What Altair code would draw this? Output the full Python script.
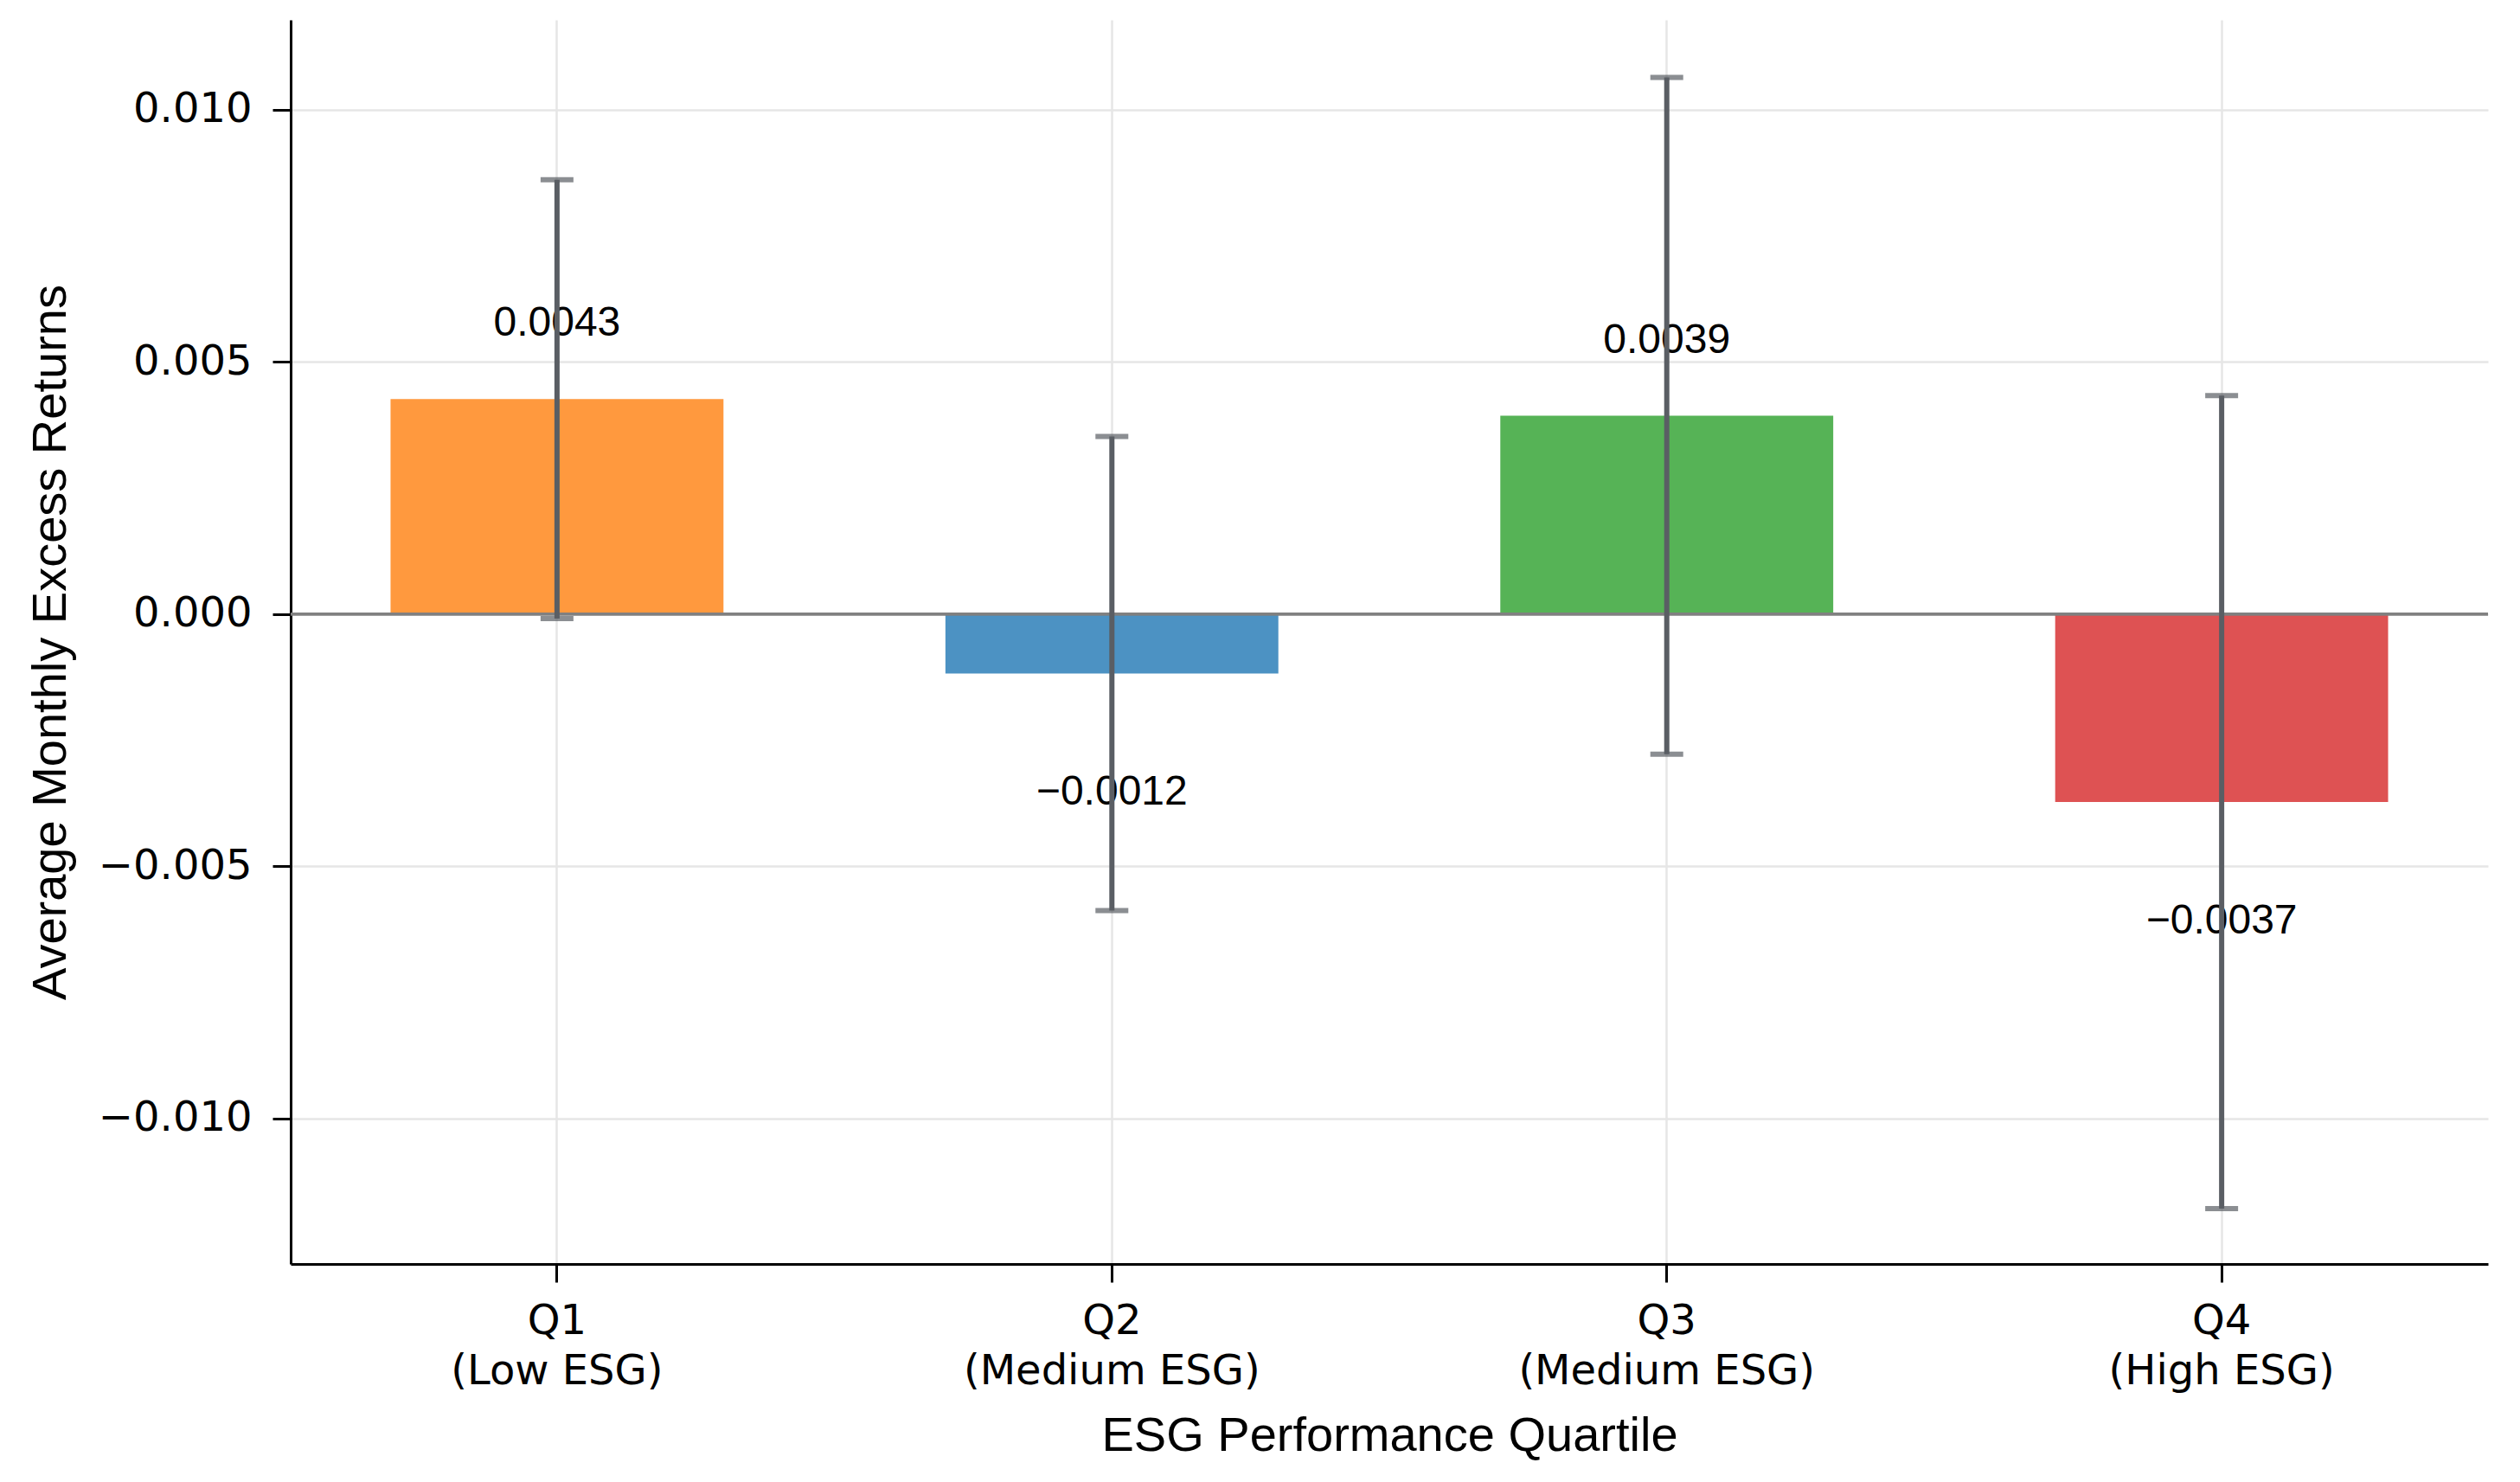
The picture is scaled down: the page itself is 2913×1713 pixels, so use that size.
import altair as alt
import pandas as pd

# ---- data ----
quartiles = ["Q1\n(Low ESG)", "Q2\n(Medium ESG)", "Q3\n(Medium ESG)", "Q4\n(High ESG)"]
returns = [0.00426, -0.00118, 0.00393, -0.00373]
errors = [0.00435, 0.00470, 0.00671, 0.00806]
colors = ["#FF993E", "#4C92C3", "#56B356", "#DE5253"]
y_ticks = [-0.010, -0.005, 0.000, 0.005, 0.010]
y_domain = [-0.01289, 0.01178]

df = pd.DataFrame({"q": quartiles, "value": returns, "err": errors})

x_axis = alt.Axis(
    title="ESG Performance Quartile",
    labelAngle=0,
    labelExpr="split(datum.label, '\\n')",
    labelLineHeight=58,
    labelPadding=21,
    labelLimit=0,
    bandPosition=0.5,
    titlePadding=23,
)
x_scale = alt.Scale(paddingInner=0.4, paddingOuter=0.18)
y_axis = alt.Axis(
    title="Average Monthly Excess Returns",
    values=y_ticks,
    format=".3f",
    labelPadding=24,
    titlePadding=49,
)
y_scale = alt.Scale(domain=y_domain, nice=False, zero=False)


def X():
    return alt.X("q:N", sort=quartiles, scale=x_scale, axis=x_axis)


def Y(field):
    return alt.Y(field, scale=y_scale, axis=y_axis)


base = alt.Chart(df).transform_calculate(
    lo="datum.value - datum.err", hi="datum.value + datum.err"
)

bars = base.mark_bar().encode(
    x=X(),
    y=Y("value:Q"),
    color=alt.Color("q:N", scale=alt.Scale(domain=quartiles, range=colors), legend=None),
)

zero = base.mark_rule(color="#808080", strokeWidth=3).encode(
    y=alt.Y("z:Q", scale=y_scale, axis=y_axis)
).transform_calculate(z="0")

lab_pos = base.transform_filter("datum.value >= 0").mark_text(
    font="Liberation Sans", fontSize=48, color="black", dy=-87, baseline="middle"
).encode(
    x=X(),
    y=Y("value:Q"),
    text=alt.Text("value:Q", format=".4f"),
)
lab_neg = base.transform_filter("datum.value < 0").mark_text(
    font="Liberation Sans", fontSize=48, color="black", dy=138, baseline="middle"
).encode(
    x=X(),
    y=Y("value:Q"),
    text=alt.Text("value:Q", format=".4f"),
)

err_rule = base.mark_rule(color="#5a5e64", strokeWidth=6).encode(
    x=X(),
    y=Y("lo:Q"),
    y2="hi:Q",
)
cap_hi = base.mark_tick(color="#5a5e64", size=38, thickness=6).encode(
    x=X(),
    y=Y("hi:Q"),
)
cap_lo = base.mark_tick(color="#5a5e64", size=38, thickness=6).encode(
    x=X(),
    y=Y("lo:Q"),
)

chart = alt.layer(bars, zero, lab_pos, lab_neg, err_rule, cap_hi, cap_lo).properties(
    width=2540,
    height=1438,
    padding={"left": 328, "top": 15, "right": 29, "bottom": 244},
    autosize=alt.AutoSizeParams(type="none"),
    background="white",
).configure_view(stroke=None).configure_axis(
    labelFont="DejaVu Sans",
    labelFontSize=48,
    labelColor="black",
    titleFont="Liberation Sans",
    titleFontSize=56,
    titleFontWeight="normal",
    titleColor="black",
    domainColor="black",
    domainWidth=3,
    tickColor="black",
    tickWidth=3,
    tickSize=21,
    grid=True,
    gridColor="#e6e6e6",
    gridWidth=2.5,
)

chart.save("out.html", embed_options={"renderer": "svg", "actions": False})
